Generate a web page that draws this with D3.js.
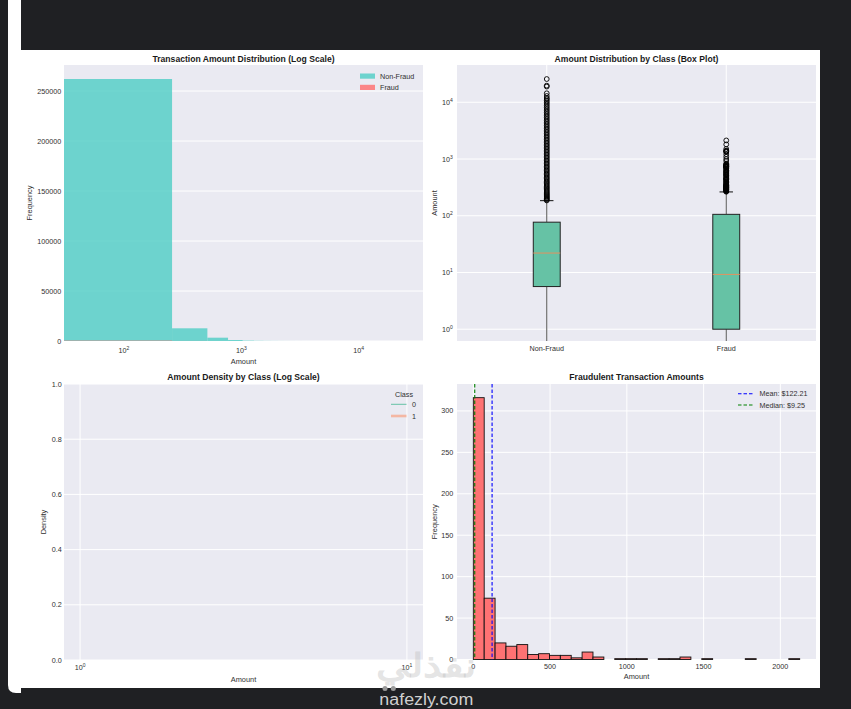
<!DOCTYPE html>
<html>
<head>
<meta charset="utf-8">
<script src="https://cdn.jsdelivr.net/npm/d3@7"></script>
<style>
  body { margin: 0; background: #1f2023; }
  text { font-family: "Liberation Sans", Arial, sans-serif; fill: #303030; }
</style>
</head>
<body>
<div id="chart"></div>
<script>
const WIDTH = 851, HEIGHT = 709;

// --- panel 1: amount histogram (100 linear bins, log x axis)
const allBinWidth = 256.91;
const nonFraudCounts = [262000, 12700, 3300, 1000, 420, 210, 120, 80, 52, 36, 25, 18, 12, 9, 7, 5, 4, 3, 3, 2];
const fraudCounts = [405, 55, 18, 7, 3, 2, 1, 0, 1];
const histLegend = ["Non-Fraud", "Fraud"];
const histColors = ["#4ECDC4", "#FF6B6B"];
const freqTicks = [0, 50000, 100000, 150000, 200000, 250000];
const histXTicks = [100, 1000, 10000];

// --- panel 2: box plot by class
const classNames = ["Non-Fraud", "Fraud"];
const q1 = [5.65, 1.0];
const medians = [22.0, 9.25];
const q3 = [77.05, 105.89];
const whiskLow = [0, 0];
const whiskHigh = [184.5, 263];
const nonFraudOutliers = [186, 192, 199, 206, 214, 222, 231, 240, 250, 261, 273, 286, 300, 315, 331, 348,
  366, 385, 405, 427, 450, 475, 502, 530, 560, 592, 626, 662, 700, 741, 785, 832, 882, 935, 992, 1053,
  1118, 1188, 1262, 1341, 1425, 1515, 1611, 1713, 1822, 1938, 2062, 2195, 2337, 2489, 2651, 2825, 3011,
  3210, 3424, 3653, 3898, 4161, 4442, 4744, 5068, 5416, 5790, 6192, 6624, 7089, 7590, 8130, 8712, 9340,
  10000, 10700, 11400, 11900, 12910, 14400, 18910, 19656, 25691];
const fraudOutliers = [265, 270, 273, 280, 284, 288, 290, 296, 298, 303, 307, 311, 312, 318, 320, 324, 328,
  333, 338, 341, 346, 353, 362, 364, 381, 390, 402, 411, 429, 437, 444, 451, 459, 476, 489, 512, 519, 529,
  545, 558, 574, 592, 601, 625, 634, 667, 680, 712, 720, 723, 730, 735, 745, 752, 766, 776, 795, 802, 829,
  925, 996, 1096, 1218, 1335, 1354, 1389, 1402, 1504, 1809, 2125.87];
const logTicks = [1, 10, 100, 1000, 10000];

// --- panel 3: density (empty)
const densityTicks = [0, 0.2, 0.4, 0.6, 0.8, 1.0];
const densityXTicks = [1, 10];
const densityLegend = ["0", "1"];

// --- panel 4: fraud amounts (30 bins)
const fraudBinWidth = 70.862;
const fraudHist = [316, 74, 20, 16, 18, 6, 7, 5, 5, 2, 9, 3, 0, 1, 1, 1, 0, 1, 1, 3, 0, 1, 0, 0, 0, 1, 0, 0, 0, 1];
const fraudMean = 122.21, fraudMedian = 9.25;
const amountTicks = [0, 500, 1000, 1500, 2000];
const fraudFreqTicks = [0, 50, 100, 150, 200, 250, 300];

const BG = "#EAEAF2";

const svg = d3.select("#chart").append("svg")
    .attr("width", WIDTH)
    .attr("height", HEIGHT);

// page frame
svg.append("rect").attr("width", WIDTH).attr("height", HEIGHT).attr("fill", "#1f2023");
svg.append("path").attr("d", "M8,0 H21 V693 H16 Q8,693 8,685 Z").attr("fill", "#fff");
svg.append("rect").attr("x", 21).attr("y", 50).attr("width", 799).attr("height", 638).attr("fill", "#fff");

const defs = svg.append("defs");

function panel(id, box) {
  defs.append("clipPath").attr("id", id)
    .append("rect").attr("x", box.x0).attr("y", box.y0)
    .attr("width", box.x1 - box.x0).attr("height", box.y1 - box.y0);
  const g = svg.append("g");
  g.append("rect").attr("x", box.x0).attr("y", box.y0)
    .attr("width", box.x1 - box.x0).attr("height", box.y1 - box.y0).attr("fill", BG);
  return g;
}

function hGrid(g, box, y, ticks) {
  g.selectAll(null).data(ticks).join("line")
    .attr("x1", box.x0).attr("x2", box.x1)
    .attr("y1", d => y(d)).attr("y2", d => y(d))
    .attr("stroke", "#fff").attr("stroke-width", 1);
}
function vGrid(g, box, x, ticks) {
  g.selectAll(null).data(ticks).join("line")
    .attr("y1", box.y0).attr("y2", box.y1)
    .attr("x1", d => x(d)).attr("x2", d => x(d))
    .attr("stroke", "#fff").attr("stroke-width", 1);
}
function powLabel(sel) {
  sel.each(function (d) {
    const t = d3.select(this);
    t.text("10");
    t.append("tspan").attr("dy", -3).attr("font-size", "5px").text(Math.round(Math.log10(d)));
  });
}
function yLabels(g, xPos, y, ticks, fmt) {
  const t = g.selectAll(null).data(ticks).join("text")
    .attr("x", xPos).attr("y", d => y(d) + 2.5)
    .attr("text-anchor", "end").attr("font-size", "7.2px");
  if (fmt) t.text(fmt); else powLabel(t);
}
function xLabels(g, yPos, x, ticks, fmt) {
  const t = g.selectAll(null).data(ticks).join("text")
    .attr("x", d => x(d)).attr("y", yPos)
    .attr("text-anchor", "middle").attr("font-size", "7.2px");
  if (fmt) t.text(fmt); else powLabel(t);
}
function titles(g, box, title, xl, yl, yLabelX, titleY, xLabelY) {
  const cx = (box.x0 + box.x1) / 2;
  g.append("text").attr("x", cx).attr("y", titleY).attr("text-anchor", "middle")
    .attr("font-size", "8.6px").attr("font-weight", "bold").style("fill", "#1a1a1a").text(title);
  g.append("text").attr("x", cx).attr("y", xLabelY).attr("text-anchor", "middle")
    .attr("font-size", "7.4px").text(xl);
  const cy = (box.y0 + box.y1) / 2;
  g.append("text").attr("transform", `translate(${yLabelX},${cy}) rotate(-90)`)
    .attr("text-anchor", "middle").attr("font-size", "7.4px").text(yl);
}

// ================= panel 1 =================
{
  const box = { x0: 64, x1: 423, y0: 65, y1: 341 };
  const g = panel("clip1", box);
  const x = d3.scaleLog().domain([30.8, 35400]).range([box.x0, box.x1]);
  const y = d3.scaleLinear().domain([0, 276000]).range([box.y1, box.y0]);
  hGrid(g, box, y, freqTicks);
  const bars = g.append("g").attr("clip-path", "url(#clip1)");
  [nonFraudCounts, fraudCounts].forEach((counts, k) => {
    bars.selectAll(null).data(counts).join("rect")
      .attr("x", (d, i) => x(Math.max(i * allBinWidth, 1)))
      .attr("width", (d, i) => x((i + 1) * allBinWidth) - x(Math.max(i * allBinWidth, 1)))
      .attr("y", d => y(d))
      .attr("height", d => y(0) - y(d))
      .attr("fill", histColors[k]).attr("fill-opacity", 0.8);
  });
  yLabels(g, 61.3, y, freqTicks, d => d);
  xLabels(g, 352.5, x, histXTicks);
  titles(g, box, "Transaction Amount Distribution (Log Scale)", "Amount", "Frequency", 31.5, 62, 363.5);
  const lg = g.append("g");
  histLegend.forEach((name, i) => {
    lg.append("rect").attr("x", 360).attr("y", 73.5 + i * 11.3).attr("width", 15).attr("height", 5.2)
      .attr("fill", histColors[i]).attr("fill-opacity", 0.8);
    lg.append("text").attr("x", 380).attr("y", 78.7 + i * 11.3).attr("font-size", "7.2px").text(name);
  });
}

// ================= panel 2 =================
{
  const box = { x0: 457, x1: 816, y0: 65, y1: 341 };
  const g = panel("clip2", box);
  const x = d3.scaleLinear().domain([0.5, 2.5]).range([box.x0, box.x1]);
  const y = d3.scaleLog().domain([0.62, 45400]).range([box.y1, box.y0]);
  const yc = v => y(Math.max(v, y.domain()[0]));
  hGrid(g, box, y, logTicks);
  vGrid(g, box, x, [1, 2]);
  const pos = [1, 2];
  const bw = x(1.075) - x(0.925);
  const body = g.append("g").attr("clip-path", "url(#clip2)");
  pos.forEach((p, i) => {
    const cx = x(p);
    body.append("line").attr("x1", cx).attr("x2", cx).attr("y1", yc(q1[i])).attr("y2", yc(whiskLow[i]))
      .attr("stroke", "#555").attr("stroke-width", 1);
    body.append("line").attr("x1", cx).attr("x2", cx).attr("y1", yc(q3[i])).attr("y2", yc(whiskHigh[i]))
      .attr("stroke", "#555").attr("stroke-width", 1);
    body.append("line").attr("x1", cx - bw / 4).attr("x2", cx + bw / 4)
      .attr("y1", yc(whiskHigh[i])).attr("y2", yc(whiskHigh[i]))
      .attr("stroke", "#111").attr("stroke-width", 1);
    body.append("rect").attr("x", cx - bw / 2).attr("width", bw)
      .attr("y", yc(q3[i])).attr("height", yc(q1[i]) - yc(q3[i]))
      .attr("fill", "#66C2A5").attr("stroke", "#222").attr("stroke-width", 1);
    body.append("line").attr("x1", cx - bw / 2).attr("x2", cx + bw / 2)
      .attr("y1", yc(medians[i])).attr("y2", yc(medians[i]))
      .attr("stroke", "#E3935F").attr("stroke-width", 1);
    const outs = i === 0 ? nonFraudOutliers : fraudOutliers;
    body.selectAll(null).data(outs).join("circle")
      .attr("cx", cx).attr("cy", d => y(d)).attr("r", 2.4)
      .attr("fill", "none").attr("stroke", "#000").attr("stroke-width", 0.9);
  });
  yLabels(g, 452.7, y, logTicks);
  g.selectAll(null).data(classNames).join("text")
    .attr("x", (d, i) => x(pos[i])).attr("y", 350.5)
    .attr("text-anchor", "middle").attr("font-size", "7.2px").text(d => d);
  titles(g, box, "Amount Distribution by Class (Box Plot)", "", "Amount", 437, 62, 363.5);
}

// ================= panel 3 =================
{
  const box = { x0: 64, x1: 423, y0: 384, y1: 660 };
  const g = panel("clip3", box);
  const x = d3.scaleLog().domain([0.893, 11.2]).range([box.x0, box.x1]);
  const y = d3.scaleLinear().domain([0, 1]).range([box.y1, box.y0]);
  hGrid(g, box, y, densityTicks);
  vGrid(g, box, x, densityXTicks);
  yLabels(g, 61.7, y, densityTicks, d => d.toFixed(1));
  xLabels(g, 669.5, x, densityXTicks);
  titles(g, box, "Amount Density by Class (Log Scale)", "Amount", "Density", 46, 380, 682);
  const lg = g.append("g");
  lg.append("text").attr("x", 404).attr("y", 396.5).attr("text-anchor", "middle")
    .attr("font-size", "7.2px").text("Class");
  const lineStyles = [{ c: "#66C2A5", w: 1, o: 1 }, { c: "#FC8D62", w: 2.6, o: 0.55 }];
  densityLegend.forEach((name, i) => {
    lg.append("line").attr("x1", 391).attr("x2", 406.5)
      .attr("y1", 404.3 + i * 11.7).attr("y2", 404.3 + i * 11.7)
      .attr("stroke", lineStyles[i].c).attr("stroke-width", lineStyles[i].w)
      .attr("stroke-opacity", lineStyles[i].o);
    lg.append("text").attr("x", 412).attr("y", 407 + i * 11.7).attr("font-size", "7.2px").text(name);
  });
}

// ================= panel 4 =================
{
  const box = { x0: 457, x1: 816, y0: 384, y1: 659.5 };
  const g = panel("clip4", box);
  const x = d3.scaleLinear().domain([-106.3, 2232.2]).range([box.x0, box.x1]);
  const y = d3.scaleLinear().domain([0, 332.5]).range([box.y1, box.y0]);
  hGrid(g, box, y, fraudFreqTicks);
  vGrid(g, box, x, amountTicks);
  g.selectAll(null).data(fraudHist).join("rect")
    .attr("x", (d, i) => x(i * fraudBinWidth))
    .attr("width", x(fraudBinWidth) - x(0))
    .attr("y", d => y(d))
    .attr("height", d => y(0) - y(d))
    .attr("fill", "#FF6B6B").attr("fill-opacity", 0.95)
    .attr("stroke", "#111").attr("stroke-width", 0.9);
  const refLines = [
    { v: fraudMean, c: "#0000FF", label: `Mean: $${fraudMean.toFixed(2)}` },
    { v: fraudMedian, c: "#008000", label: `Median: $${fraudMedian.toFixed(2)}` }
  ];
  refLines.forEach((r, i) => {
    g.append("line").attr("x1", x(r.v)).attr("x2", x(r.v)).attr("y1", box.y0).attr("y2", box.y1)
      .attr("stroke", r.c).attr("stroke-width", 1.1).attr("stroke-dasharray", "3.5,2");
    g.append("line").attr("x1", 738).attr("x2", 753.5)
      .attr("y1", 393.7 + i * 11.3).attr("y2", 393.7 + i * 11.3)
      .attr("stroke", r.c).attr("stroke-width", 1.1).attr("stroke-dasharray", "3.5,2");
    g.append("text").attr("x", 759.5).attr("y", 396.3 + i * 11.3).attr("font-size", "7.2px").text(r.label);
  });
  yLabels(g, 453.3, y, fraudFreqTicks, d => d);
  xLabels(g, 668.5, x, amountTicks, d => d);
  titles(g, box, "Fraudulent Transaction Amounts", "Amount", "Frequency", 437, 380, 679);
}

// watermark
svg.append("text").attr("x", 376).attr("y", 677)
  .attr("font-family", "DejaVu Sans").attr("font-weight", "bold").attr("font-size", "33px")
  .attr("textLength", 100).attr("lengthAdjust", "spacingAndGlyphs")
  .style("fill", "#bbb").attr("fill-opacity", 0.4).text("نفذلي");
svg.append("circle").attr("cx", 385).attr("cy", 688.5).attr("r", 2.5).attr("fill", "#999");
svg.append("circle").attr("cx", 393.3).attr("cy", 688.5).attr("r", 2.5).attr("fill", "#999");
svg.append("text").attr("x", 379.3).attr("y", 705).attr("font-size", "16px")
  .attr("textLength", 94).attr("lengthAdjust", "spacingAndGlyphs")
  .style("fill", "#d0d0d0").text("nafezly.com");
</script>
</body>
</html>
